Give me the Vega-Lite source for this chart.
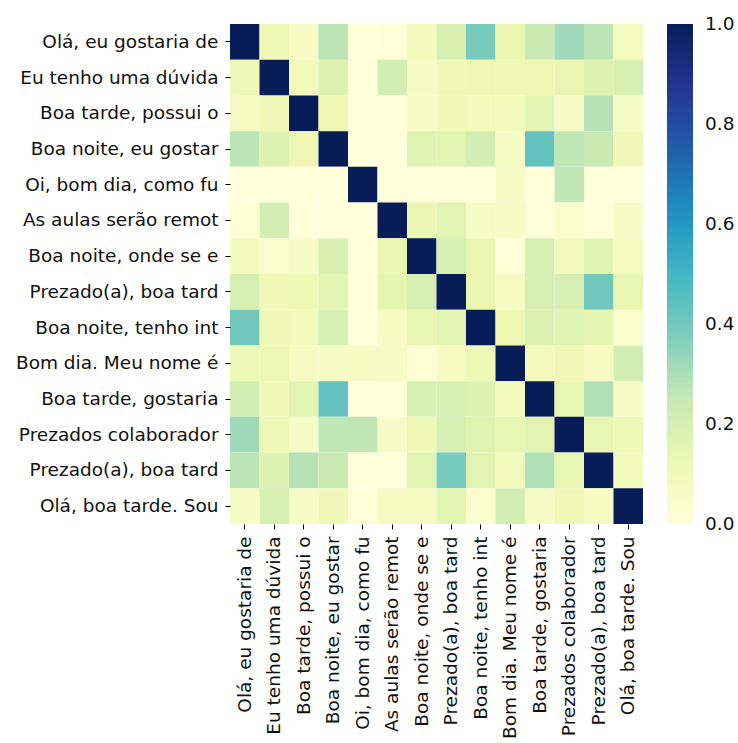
{
  "$schema": "https://vega.github.io/schema/vega-lite/v6.json",
  "width": 413,
  "height": 500,
  "autosize": "none",
  "padding": {"left": 230, "top": 24, "right": 95, "bottom": 219},
  "background": "white",
  "config": {"view": {"stroke": null}, "font": "DejaVu Sans"},
  "data": {"values": [
    {"r":0,"c":0,"v":1},{"r":0,"c":1,"v":0.11},{"r":0,"c":2,"v":0.07},{"r":0,"c":3,"v":0.27},{"r":0,"c":4,"v":0},{"r":0,"c":5,"v":0.01},{"r":0,"c":6,"v":0.09},{"r":0,"c":7,"v":0.19},{"r":0,"c":8,"v":0.39},{"r":0,"c":9,"v":0.13},{"r":0,"c":10,"v":0.24},{"r":0,"c":11,"v":0.32},{"r":0,"c":12,"v":0.27},{"r":0,"c":13,"v":0.08},
    {"r":1,"c":0,"v":0.11},{"r":1,"c":1,"v":1},{"r":1,"c":2,"v":0.09},{"r":1,"c":3,"v":0.18},{"r":1,"c":4,"v":0},{"r":1,"c":5,"v":0.21},{"r":1,"c":6,"v":0.06},{"r":1,"c":7,"v":0.10},{"r":1,"c":8,"v":0.12},{"r":1,"c":9,"v":0.12},{"r":1,"c":10,"v":0.12},{"r":1,"c":11,"v":0.13},{"r":1,"c":12,"v":0.18},{"r":1,"c":13,"v":0.20},
    {"r":2,"c":0,"v":0.07},{"r":2,"c":1,"v":0.10},{"r":2,"c":2,"v":1},{"r":2,"c":3,"v":0.12},{"r":2,"c":4,"v":0},{"r":2,"c":5,"v":0},{"r":2,"c":6,"v":0.06},{"r":2,"c":7,"v":0.10},{"r":2,"c":8,"v":0.09},{"r":2,"c":9,"v":0.09},{"r":2,"c":10,"v":0.16},{"r":2,"c":11,"v":0.06},{"r":2,"c":12,"v":0.28},{"r":2,"c":13,"v":0.06},
    {"r":3,"c":0,"v":0.27},{"r":3,"c":1,"v":0.18},{"r":3,"c":2,"v":0.12},{"r":3,"c":3,"v":1},{"r":3,"c":4,"v":0},{"r":3,"c":5,"v":0},{"r":3,"c":6,"v":0.17},{"r":3,"c":7,"v":0.16},{"r":3,"c":8,"v":0.21},{"r":3,"c":9,"v":0.06},{"r":3,"c":10,"v":0.43},{"r":3,"c":11,"v":0.26},{"r":3,"c":12,"v":0.24},{"r":3,"c":13,"v":0.10},
    {"r":4,"c":0,"v":0},{"r":4,"c":1,"v":0},{"r":4,"c":2,"v":0},{"r":4,"c":3,"v":0},{"r":4,"c":4,"v":1},{"r":4,"c":5,"v":0.01},{"r":4,"c":6,"v":0.01},{"r":4,"c":7,"v":0.01},{"r":4,"c":8,"v":0.01},{"r":4,"c":9,"v":0.06},{"r":4,"c":10,"v":0},{"r":4,"c":11,"v":0.26},{"r":4,"c":12,"v":0},{"r":4,"c":13,"v":0},
    {"r":5,"c":0,"v":0.02},{"r":5,"c":1,"v":0.21},{"r":5,"c":2,"v":0},{"r":5,"c":3,"v":0},{"r":5,"c":4,"v":0},{"r":5,"c":5,"v":1},{"r":5,"c":6,"v":0.13},{"r":5,"c":7,"v":0.16},{"r":5,"c":8,"v":0.06},{"r":5,"c":9,"v":0.06},{"r":5,"c":10,"v":0.01},{"r":5,"c":11,"v":0.04},{"r":5,"c":12,"v":0.01},{"r":5,"c":13,"v":0.06},
    {"r":6,"c":0,"v":0.09},{"r":6,"c":1,"v":0.04},{"r":6,"c":2,"v":0.06},{"r":6,"c":3,"v":0.19},{"r":6,"c":4,"v":0},{"r":6,"c":5,"v":0.13},{"r":6,"c":6,"v":1},{"r":6,"c":7,"v":0.20},{"r":6,"c":8,"v":0.13},{"r":6,"c":9,"v":0.01},{"r":6,"c":10,"v":0.20},{"r":6,"c":11,"v":0.09},{"r":6,"c":12,"v":0.17},{"r":6,"c":13,"v":0.08},
    {"r":7,"c":0,"v":0.20},{"r":7,"c":1,"v":0.10},{"r":7,"c":2,"v":0.11},{"r":7,"c":3,"v":0.16},{"r":7,"c":4,"v":0},{"r":7,"c":5,"v":0.15},{"r":7,"c":6,"v":0.20},{"r":7,"c":7,"v":1},{"r":7,"c":8,"v":0.13},{"r":7,"c":9,"v":0.07},{"r":7,"c":10,"v":0.20},{"r":7,"c":11,"v":0.20},{"r":7,"c":12,"v":0.40},{"r":7,"c":13,"v":0.14},
    {"r":8,"c":0,"v":0.40},{"r":8,"c":1,"v":0.10},{"r":8,"c":2,"v":0.09},{"r":8,"c":3,"v":0.20},{"r":8,"c":4,"v":0},{"r":8,"c":5,"v":0.07},{"r":8,"c":6,"v":0.14},{"r":8,"c":7,"v":0.16},{"r":8,"c":8,"v":1},{"r":8,"c":9,"v":0.12},{"r":8,"c":10,"v":0.18},{"r":8,"c":11,"v":0.17},{"r":8,"c":12,"v":0.15},{"r":8,"c":13,"v":0.04},
    {"r":9,"c":0,"v":0.11},{"r":9,"c":1,"v":0.11},{"r":9,"c":2,"v":0.07},{"r":9,"c":3,"v":0.06},{"r":9,"c":4,"v":0.07},{"r":9,"c":5,"v":0.06},{"r":9,"c":6,"v":0.02},{"r":9,"c":7,"v":0.07},{"r":9,"c":8,"v":0.11},{"r":9,"c":9,"v":1},{"r":9,"c":10,"v":0.09},{"r":9,"c":11,"v":0.12},{"r":9,"c":12,"v":0.07},{"r":9,"c":13,"v":0.21},
    {"r":10,"c":0,"v":0.21},{"r":10,"c":1,"v":0.10},{"r":10,"c":2,"v":0.16},{"r":10,"c":3,"v":0.43},{"r":10,"c":4,"v":0},{"r":10,"c":5,"v":0},{"r":10,"c":6,"v":0.20},{"r":10,"c":7,"v":0.20},{"r":10,"c":8,"v":0.18},{"r":10,"c":9,"v":0.09},{"r":10,"c":10,"v":1},{"r":10,"c":11,"v":0.14},{"r":10,"c":12,"v":0.29},{"r":10,"c":13,"v":0.06},
    {"r":11,"c":0,"v":0.32},{"r":11,"c":1,"v":0.11},{"r":11,"c":2,"v":0.06},{"r":11,"c":3,"v":0.26},{"r":11,"c":4,"v":0.26},{"r":11,"c":5,"v":0.06},{"r":11,"c":6,"v":0.10},{"r":11,"c":7,"v":0.20},{"r":11,"c":8,"v":0.17},{"r":11,"c":9,"v":0.14},{"r":11,"c":10,"v":0.16},{"r":11,"c":11,"v":1},{"r":11,"c":12,"v":0.14},{"r":11,"c":13,"v":0.11},
    {"r":12,"c":0,"v":0.27},{"r":12,"c":1,"v":0.18},{"r":12,"c":2,"v":0.28},{"r":12,"c":3,"v":0.24},{"r":12,"c":4,"v":0},{"r":12,"c":5,"v":0},{"r":12,"c":6,"v":0.16},{"r":12,"c":7,"v":0.39},{"r":12,"c":8,"v":0.16},{"r":12,"c":9,"v":0.09},{"r":12,"c":10,"v":0.29},{"r":12,"c":11,"v":0.14},{"r":12,"c":12,"v":1},{"r":12,"c":13,"v":0.09},
    {"r":13,"c":0,"v":0.06},{"r":13,"c":1,"v":0.20},{"r":13,"c":2,"v":0.06},{"r":13,"c":3,"v":0.10},{"r":13,"c":4,"v":0.01},{"r":13,"c":5,"v":0.07},{"r":13,"c":6,"v":0.07},{"r":13,"c":7,"v":0.16},{"r":13,"c":8,"v":0.04},{"r":13,"c":9,"v":0.21},{"r":13,"c":10,"v":0.06},{"r":13,"c":11,"v":0.10},{"r":13,"c":12,"v":0.07},{"r":13,"c":13,"v":1}
  ]},
  "mark": {"type": "rect", "strokeWidth": 0},
  "encoding": {
    "x": {
      "field": "c", "type": "ordinal",
      "scale": {"paddingInner": 0, "paddingOuter": 0},
      "axis": {
        "title": null, "domain": false, "ticks": true, "tickSize": 5, "tickColor": "#000", "tickWidth": 1,
        "labelFontSize": 18.5, "labelColor": "#111", "labelPadding": 7, "labelAngle": 270, "labelLimit": 400,
        "labelAlign": "right", "labelBaseline": "middle",
        "labelExpr": "['Olá, eu gostaria de ', 'Eu tenho uma dúvida ', 'Boa tarde, possui o ', 'Boa noite, eu gostar', 'Oi, bom dia, como fu', 'As aulas serão remot', 'Boa noite, onde se e', 'Prezado(a), boa tard', 'Boa noite, tenho int', 'Bom dia. Meu nome é ', 'Boa tarde, gostaria ', 'Prezados colaborador', 'Prezado(a), boa tard', 'Olá, boa tarde. Sou '][datum.value]"
      }
    },
    "y": {
      "field": "r", "type": "ordinal",
      "scale": {"paddingInner": 0, "paddingOuter": 0},
      "axis": {
        "title": null, "domain": false, "ticks": true, "tickSize": 5, "tickColor": "#000", "tickWidth": 1,
        "labelFontSize": 18.5, "labelColor": "#111", "labelPadding": 7, "labelLimit": 400,
        "labelExpr": "['Olá, eu gostaria de ', 'Eu tenho uma dúvida ', 'Boa tarde, possui o ', 'Boa noite, eu gostar', 'Oi, bom dia, como fu', 'As aulas serão remot', 'Boa noite, onde se e', 'Prezado(a), boa tard', 'Boa noite, tenho int', 'Bom dia. Meu nome é ', 'Boa tarde, gostaria ', 'Prezados colaborador', 'Prezado(a), boa tard', 'Olá, boa tarde. Sou '][datum.value]"
      }
    },
    "color": {
      "field": "v", "type": "quantitative",
      "scale": {
        "domain": [0, 0.125, 0.25, 0.375, 0.5, 0.625, 0.75, 0.875, 1],
        "range": ["#ffffd9", "#edf8b1", "#c7e9b4", "#7fcdbb", "#41b6c4", "#1d91c0", "#225ea8", "#253494", "#081d58"],
        "interpolate": "rgb"
      },
      "legend": {
        "title": null, "orient": "right", "offset": 24, "padding": 0,
        "gradientLength": 500, "gradientThickness": 26, "gradientStrokeWidth": 0,
        "values": [0, 0.2, 0.4, 0.6, 0.8, 1.0], "format": ".1f",
        "labelFontSize": 18.5, "labelColor": "#111", "labelOffset": 12, "labelBaseline": "middle", "labelOverlap": false,
        "encode": {"labels": {"update": {"baseline": {"value": "middle"}}}}
      }
    }
  }
}
